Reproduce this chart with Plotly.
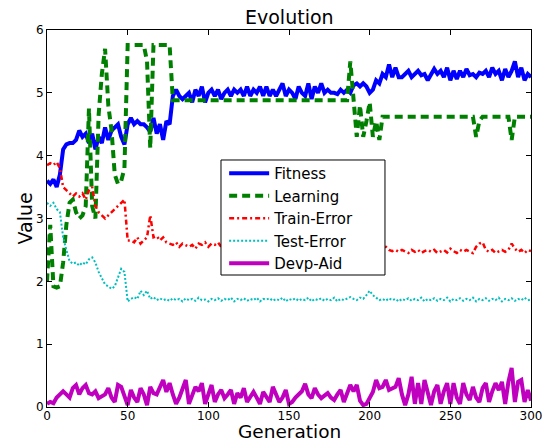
import plotly.graph_objects as go

generations = list(range(0, 301, 2))

fitness = [
    3.60, 3.55, 3.62, 3.50, 3.70, 4.10, 4.18, 4.20, 4.20, 4.25,
    4.40, 4.30, 4.35, 4.20, 4.35, 4.10, 4.30, 4.20, 4.45, 4.25,
    4.40, 4.45, 4.50, 4.30, 4.18, 4.50, 4.60, 4.50, 4.55, 4.50,
    4.50, 4.45, 4.38, 4.60, 4.35, 4.50, 4.25, 4.55, 4.50, 4.95,
    5.05, 4.95, 4.90, 4.95, 5.00, 4.85, 5.05, 4.95, 5.10, 4.85,
    5.00, 5.05, 4.95, 5.05, 4.90, 5.00, 5.05, 4.95, 5.05, 5.00,
    5.05, 4.95, 5.10, 4.95, 5.05, 5.00, 5.10, 4.95, 5.10, 4.95,
    5.05, 4.95, 5.05, 5.15, 4.95, 5.05, 5.00, 4.90, 5.10, 5.00,
    4.95, 5.15, 4.90, 5.10, 5.00, 5.15, 5.00, 5.05, 5.00, 5.00,
    4.98, 5.05, 5.00, 5.05, 5.00, 5.12, 5.15, 5.10, 5.15, 5.10,
    5.00, 5.05, 5.20, 5.15, 5.30, 5.25, 5.45, 5.25, 5.40, 5.25,
    5.25, 5.30, 5.35, 5.25, 5.30, 5.35, 5.28, 5.30, 5.20, 5.30,
    5.38, 5.30, 5.35, 5.25, 5.40, 5.20, 5.35, 5.22, 5.35, 5.25,
    5.38, 5.28, 5.30, 5.25, 5.32, 5.30, 5.35, 5.25, 5.40, 5.30,
    5.35, 5.20, 5.38, 5.25, 5.35, 5.50, 5.25, 5.40, 5.20, 5.30,
    5.25,
]

learning = [
    2.00, 2.90, 1.92, 1.90, 1.92, 2.30, 2.90, 3.25, 3.30, 3.10,
    3.00, 3.05, 3.20, 4.75, 3.20, 3.00, 4.65, 5.30, 5.70, 4.80,
    4.40, 3.70, 3.55, 3.60, 3.80, 5.76, 5.76, 5.76, 5.76, 5.76,
    5.76, 5.50, 4.12, 5.76, 5.76, 5.76, 5.76, 5.76, 5.76, 4.88,
    4.88, 4.88, 4.88, 4.88, 4.88, 4.88, 4.88, 4.88, 4.88, 4.88,
    4.88, 4.88, 4.88, 4.88, 4.88, 4.88, 4.88, 4.88, 4.88, 4.88,
    4.88, 4.88, 4.88, 4.88, 4.88, 4.88, 4.88, 4.88, 4.88, 4.88,
    4.88, 4.88, 4.88, 4.88, 4.88, 4.88, 4.88, 4.88, 4.88, 4.88,
    4.88, 4.88, 4.88, 4.88, 4.88, 4.88, 4.88, 4.88, 4.88, 4.88,
    4.88, 4.88, 4.88, 4.88, 5.50, 4.88, 4.30, 4.80, 4.30, 4.55,
    4.85, 4.30, 4.55, 4.25, 4.62, 4.62, 4.62, 4.62, 4.62, 4.62,
    4.62, 4.62, 4.62, 4.62, 4.62, 4.62, 4.62, 4.62, 4.62, 4.62,
    4.62, 4.62, 4.62, 4.62, 4.62, 4.62, 4.62, 4.62, 4.62, 4.62,
    4.62, 4.62, 4.62, 4.30, 4.55, 4.62, 4.62, 4.62, 4.62, 4.62,
    4.62, 4.62, 4.62, 4.62, 4.25, 4.62, 4.62, 4.62, 4.62, 4.62,
    4.62,
]

train_error = [
    3.85, 3.88, 3.85, 3.90, 3.80, 3.50, 3.45, 3.40, 3.35, 3.40,
    3.35, 3.40, 3.30, 3.45, 3.50, 3.20, 3.10, 3.05, 3.00, 3.05,
    3.10, 3.15, 3.20, 3.25, 3.30, 2.65, 2.65, 2.62, 2.70, 2.60,
    2.65, 2.70, 3.05, 2.70, 2.72, 2.65, 2.70, 2.62, 2.60, 2.58,
    2.62, 2.55, 2.60, 2.58, 2.55, 2.58, 2.52, 2.60, 2.58, 2.62,
    2.55, 2.60, 2.58, 2.62, 2.55, 2.60, 2.58, 2.62, 2.55, 2.60,
    2.56, 2.60, 2.55, 2.62, 2.58, 2.55, 2.60, 2.57, 2.62, 2.55,
    2.60, 2.58, 2.55, 2.62, 2.58, 2.60, 2.55, 2.62, 2.57, 2.60,
    2.55, 2.60, 2.58, 2.62, 2.56, 2.60, 2.55, 2.58, 2.62, 2.57,
    2.60, 2.55, 2.58, 2.62, 2.56, 2.60, 2.58, 2.62, 2.68, 2.65,
    2.75, 2.70, 2.74, 2.62, 2.58, 2.55, 2.50, 2.48, 2.50, 2.47,
    2.50, 2.48, 2.45, 2.50, 2.47, 2.50, 2.45, 2.48, 2.50, 2.47,
    2.50, 2.45, 2.48, 2.50, 2.46, 2.52, 2.48, 2.45, 2.50, 2.47,
    2.50, 2.48, 2.45, 2.55, 2.60, 2.62, 2.50, 2.47, 2.50, 2.45,
    2.48, 2.50, 2.47, 2.50, 2.60, 2.52, 2.47, 2.50, 2.45, 2.50,
    2.48,
]

test_error = [
    3.25, 3.20, 3.25, 3.15, 3.10, 2.70, 2.50, 2.32, 2.28, 2.30,
    2.25, 2.30, 2.27, 2.35, 2.38, 2.30, 2.15, 2.05, 1.95, 1.92,
    1.88, 1.92, 2.05, 2.20, 2.15, 1.68, 1.72, 1.75, 1.72, 1.85,
    1.78, 1.85, 1.72, 1.75, 1.70, 1.73, 1.70, 1.72, 1.69, 1.73,
    1.70, 1.72, 1.68, 1.73, 1.70, 1.72, 1.69, 1.74, 1.70, 1.71,
    1.68, 1.72, 1.70, 1.73, 1.69, 1.72, 1.70, 1.74, 1.68, 1.72,
    1.70, 1.73, 1.69, 1.72, 1.70, 1.74, 1.68, 1.72, 1.71, 1.73,
    1.69, 1.72, 1.70, 1.74, 1.68, 1.72, 1.70, 1.73, 1.69, 1.72,
    1.70, 1.74, 1.68, 1.72, 1.70, 1.73, 1.69, 1.72, 1.70, 1.74,
    1.68, 1.72, 1.70, 1.73, 1.75, 1.72, 1.70, 1.74, 1.72, 1.78,
    1.85, 1.78, 1.74, 1.70, 1.72, 1.69, 1.73, 1.70, 1.72, 1.68,
    1.72, 1.70, 1.73, 1.69, 1.72, 1.70, 1.74, 1.68, 1.72, 1.70,
    1.73, 1.69, 1.72, 1.70, 1.74, 1.68, 1.72, 1.70, 1.73, 1.69,
    1.72, 1.70, 1.74, 1.68, 1.72, 1.70, 1.73, 1.69, 1.72, 1.70,
    1.74, 1.68, 1.72, 1.70, 1.73, 1.69, 1.72, 1.70, 1.74, 1.70,
    1.71,
]

devp_aid = [
    0.05, 0.08, 0.06, 0.15, 0.20, 0.25, 0.20, 0.15, 0.30, 0.35,
    0.20, 0.30, 0.35, 0.22, 0.20, 0.25, 0.14, 0.18, 0.20, 0.30,
    0.15, 0.08, 0.35, 0.32, 0.15, 0.03, 0.27, 0.15, 0.08, 0.30,
    0.20, 0.03, 0.32, 0.22, 0.20, 0.30, 0.43, 0.24, 0.38, 0.20,
    0.05, 0.15, 0.30, 0.43, 0.05, 0.20, 0.32, 0.25, 0.38, 0.05,
    0.20, 0.35, 0.08, 0.20, 0.27, 0.14, 0.20, 0.27, 0.05, 0.22,
    0.15, 0.30, 0.08, 0.15, 0.24, 0.15, 0.05, 0.24, 0.15, 0.08,
    0.32, 0.20, 0.08, 0.15, 0.27, 0.05, 0.08, 0.15, 0.20, 0.25,
    0.37, 0.20, 0.14, 0.30, 0.20, 0.14, 0.18, 0.22, 0.15, 0.11,
    0.20, 0.27, 0.08, 0.20, 0.35, 0.25, 0.35, 0.10, 0.03, 0.05,
    0.15, 0.24, 0.43, 0.30, 0.32, 0.43, 0.27, 0.30, 0.32, 0.46,
    0.20, 0.03, 0.20, 0.48, 0.05, 0.38, 0.05, 0.43, 0.20, 0.03,
    0.25, 0.35, 0.05, 0.25, 0.38, 0.05, 0.38, 0.15, 0.05, 0.38,
    0.20, 0.11, 0.32, 0.15, 0.08, 0.30, 0.38, 0.08, 0.25, 0.38,
    0.27, 0.40, 0.05, 0.40, 0.62, 0.08, 0.40, 0.43, 0.08, 0.27,
    0.10,
]

x_ticks = [0, 50, 100, 150, 200, 250, 300]
y_ticks = [0, 1, 2, 3, 4, 5, 6]

FONT = "DejaVu Sans"

fig = go.Figure()
fig.add_trace(go.Scatter(x=generations, y=fitness, mode="lines", name="Fitness",
                         line=dict(color="#0000ff", width=4)))
fig.add_trace(go.Scatter(x=generations, y=learning, mode="lines", name="Learning",
                         line=dict(color="#008000", width=4, dash="8px,5px")))
fig.add_trace(go.Scatter(x=generations, y=train_error, mode="lines", name="Train-Error",
                         line=dict(color="#ff0000", width=2.5, dash="5px,3px,2px,3px")))
fig.add_trace(go.Scatter(x=generations, y=test_error, mode="lines", name="Test-Error",
                         line=dict(color="#00bfbf", width=2, dash="2px,2px")))
fig.add_trace(go.Scatter(x=generations, y=devp_aid, mode="lines", name="Devp-Aid",
                         line=dict(color="#bf00bf", width=4)))

axis_common = dict(showline=True, linecolor="black", linewidth=1, mirror="ticks",
                   ticks="inside", ticklen=5, tickcolor="black", showgrid=False,
                   zeroline=False, automargin=False,
                   tickfont=dict(family=FONT, size=12, color="black"))

fig.update_layout(
    width=548, height=443,
    margin=dict(l=47, r=17, t=30, b=36),
    paper_bgcolor="white", plot_bgcolor="white",
    xaxis=dict(range=[0, 300], tickvals=x_ticks, ticklabelstandoff=-2, **axis_common),
    yaxis=dict(range=[0, 6], tickvals=y_ticks, **axis_common),
    legend=dict(x=0.366, y=0.663, xanchor="left", yanchor="top",
                bgcolor="rgba(0,0,0,0)", borderwidth=0, itemwidth=40,
                font=dict(family=FONT, size=15, color="black"),
                tracegroupgap=0, traceorder="grouped"),
    showlegend=True,
    shapes=[
        dict(type="rect", xref="paper", yref="paper",
             x0=0.3595, x1=0.6983, y0=0.3501, y1=0.6552, layer="above",
             fillcolor="white", line=dict(color="black", width=1)),
    ],
    annotations=[
        dict(text="Evolution", xref="paper", yref="paper", x=0.5, y=1.0345,
             xanchor="center", yanchor="middle", showarrow=False,
             font=dict(family=FONT, size=19, color="black")),
        dict(text="Generation", xref="paper", yref="paper", x=0.5, y=-0.065,
             xanchor="center", yanchor="middle", showarrow=False,
             font=dict(family=FONT, size=18.5, color="black")),
        dict(text="Value", xref="paper", yref="paper", x=-0.0475, y=0.5,
             xanchor="center", yanchor="middle", showarrow=False, textangle=-90,
             font=dict(family=FONT, size=19, color="black")),
    ],
)
for i, tr in enumerate(fig.data):
    tr.legendgroup = f"g{i}"

fig.write_html("out.html", config={"displayModeBar": False},
               post_script="document.body.style.margin='0px';document.body.style.padding='0px';")
